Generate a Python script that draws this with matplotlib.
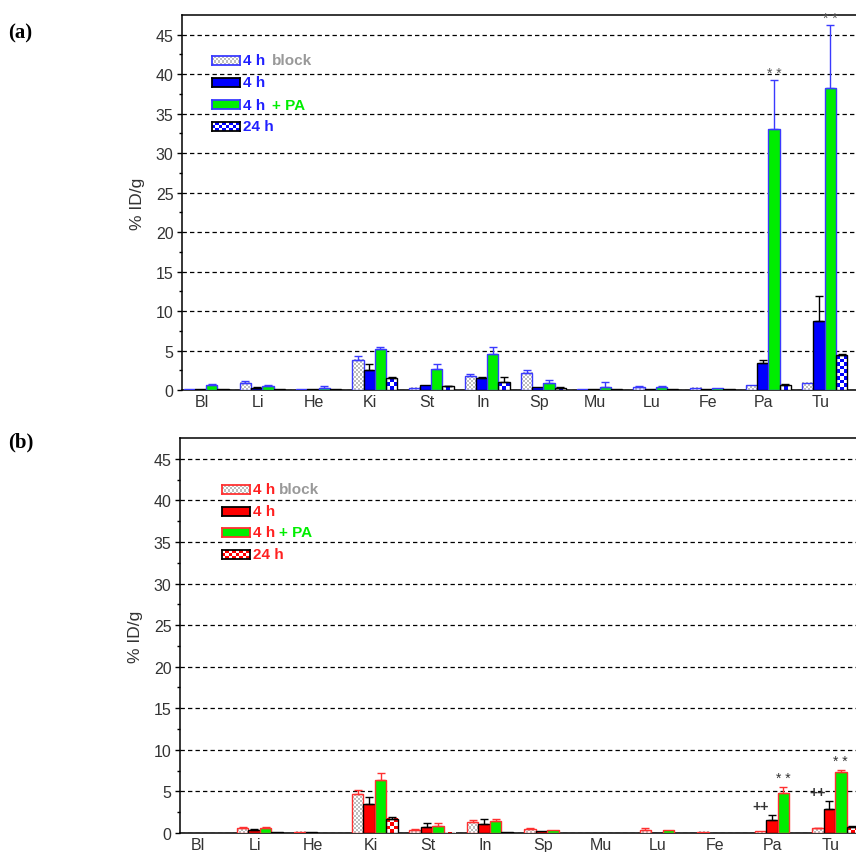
import numpy as np
import matplotlib
matplotlib.use("Agg")
import matplotlib.pyplot as plt
from matplotlib.colors import ListedColormap

plt.rcParams['font.family'] = ['Liberation Sans', 'DejaVu Sans']

tissues = ['Bl', 'Li', 'He', 'Ki', 'St', 'In', 'Sp', 'Mu', 'Lu', 'Fe', 'Pa', 'Tu']

# panel (a)
a_block = [0.1, 0.93, 0.1, 3.85, 0.3, 1.77, 2.2, 0.1, 0.33, 0.3, 0.63, 0.92]
a_block_err = [0, 0.27, 0, 0.5, 0, 0.3, 0.3, 0, 0.12, 0, 0, 0]
a_4h = [0.1, 0.3, 0.1, 2.5, 0.6, 1.5, 0.33, 0.1, 0.1, 0.1, 3.45, 8.76]
a_4h_err = [0, 0.05, 0, 0.8, 0, 0.1, 0, 0, 0, 0, 0.4, 3.1]
a_pa = [0.6, 0.55, 0.3, 5.15, 2.6, 4.6, 0.85, 0.42, 0.42, 0.3, 33.0, 38.3]
a_pa_err = [0.2, 0.05, 0.15, 0.35, 0.7, 0.9, 0.45, 0.63, 0.05, 0, 6.3, 7.9]
a_24h = [0.1, 0.1, 0.1, 1.5, 0.45, 1.0, 0.3, 0.1, 0.1, 0.1, 0.63, 4.42]
a_24h_err = [0, 0, 0, 0.15, 0.1, 0.6, 0.1, 0, 0, 0, 0.12, 0.18]

# panel (b)
b_block = [0, 0.6, 0.15, 4.66, 0.36, 1.32, 0.48, 0, 0.36, 0.15, 0.24, 0.56]
b_block_err = [0, 0.12, 0, 0.55, 0.09, 0.25, 0.12, 0, 0.24, 0, 0, 0.1]
b_4h = [0, 0.36, 0.1, 3.5, 0.68, 1.08, 0.25, 0, 0.05, 0, 1.57, 2.93]
b_4h_err = [0, 0.09, 0, 0.87, 0.49, 0.65, 0, 0, 0, 0, 0.56, 0.93]
b_pa = [0, 0.6, 0, 6.35, 0.88, 1.4, 0.32, 0, 0.32, 0, 4.78, 7.3]
b_pa_err = [0, 0.1, 0, 0.85, 0.29, 0.25, 0, 0, 0, 0, 0.72, 0.3]
b_24h = [0, 0.1, 0, 1.73, 0.05, 0.1, 0, 0, 0, 0, 0, 0.72]
b_24h_err = [0, 0, 0, 0.24, 0, 0, 0, 0, 0, 0, 0, 0.08]

BLUE = '#0000ff'
EBLUE = '#3a3aff'
GREEN = '#00ee00'
RED = '#ff0000'
ERED = '#ff3030'
GRAY_TXT = '#999999'

W, H = 856, 853
fig = plt.figure(figsize=(W / 100, H / 100), dpi=100)


def px_axes(l, t, r, b):
    return fig.add_axes([l / W, 1 - b / H, (r - l) / W, (b - t) / H])


def checker(nx, ny):
    return np.add.outer(np.arange(ny), np.arange(nx)) % 2


def checker_fill(ax, patches, color, cell):
    cmap = ListedColormap(['white', color])
    for p in patches:
        x0, y0, w, h = p.get_x(), p.get_y(), p.get_width(), p.get_height()
        if h <= 0:
            continue
        (px0, py0), (px1, py1) = ax.transData.transform([(x0, y0), (x0 + w, y0 + h)])
        nx = max(1, int(round((px1 - px0) / cell)))
        ny = max(1, int(round((py1 - py0) / cell)))
        ax.imshow(checker(nx, ny), cmap=cmap, vmin=0, vmax=1, origin='lower',
                  extent=(x0, x0 + w, y0, y0 + h), interpolation='nearest',
                  aspect='auto', zorder=2.6)


def panel(ax, xlim, series):
    ax.set_xlim(*xlim)
    ax.set_ylim(0, 47.5)
    x = np.arange(len(tissues))
    offs = [-0.3, -0.1, 0.1, 0.3]
    for (vals, errs, face, edge, ecol, pattern), off in zip(series, offs):
        vals = np.array(vals, float)
        errs = np.array(errs, float)
        edges = [edge if v > 0 else 'none' for v in vals]
        fc = 'none' if pattern else face
        bars = ax.bar(x + off, vals, 0.2, color=fc, edgecolor=edges, linewidth=1.0, zorder=3)
        if pattern:
            checker_fill(ax, bars.patches, pattern[0], pattern[1])
        m = errs > 0
        ax.errorbar((x + off)[m], vals[m], yerr=[np.zeros(m.sum()), errs[m]], fmt='none',
                    ecolor=ecol, elinewidth=1.0, capsize=3, capthick=1.0, zorder=3.5)
    ax.set_xlim(*xlim)
    ax.set_ylim(0, 47.5)
    ax.set_yticks(np.arange(0, 46, 5))
    ax.set_yticks(np.arange(2.5, 47, 5), minor=True)
    ax.yaxis.grid(True, which='major', linestyle=(0, (3.5, 2.5)), color='black', lw=0.9)
    ax.set_axisbelow(True)
    ax.set_xticks(x - 0.08)
    ax.set_xticklabels(tissues)
    ax.tick_params(axis='x', length=0, pad=3, labelsize=11.5, labelcolor='#333333')
    ax.tick_params(axis='y', which='major', direction='out', length=3.6, width=1,
                   pad=2.5, labelsize=11.5, labelcolor='#333333')
    ax.tick_params(axis='y', which='minor', direction='out', length=2.2, width=1)
    ax.spines['right'].set_visible(False)
    for s in ['left', 'bottom', 'top']:
        ax.spines[s].set_linewidth(1.1)
    ax.set_ylabel('% ID/g', fontsize=12.5, color='#333333', labelpad=8)


def legend(l, rows, text_x, block_x, edge_main, txt_color, dark_face, pattern_color):
    entries = [
        ('block', '#bdbdbd', edge_main, 2),
        ('solid', dark_face, 'black', None),
        ('solid', GREEN, edge_main, None),
        ('check', pattern_color, 'black', 3.5),
    ]
    for (kind, face, edge, cell), cy in zip(entries, rows):
        sa = px_axes(l, cy - 4.5, l + 28, cy + 4.5)
        sa.set_xticks([])
        sa.set_yticks([])
        if kind == 'solid':
            sa.set_facecolor(face)
        else:
            nx = int(round(28 / cell))
            ny = max(1, int(round(9 / cell)))
            sa.imshow(checker(nx, ny), cmap=ListedColormap(['white', face]),
                      aspect='auto', interpolation='nearest', vmin=0, vmax=1)
        for s in sa.spines.values():
            s.set_edgecolor(edge)
            s.set_linewidth(1.3)
    kw = dict(fontsize=11, fontweight='bold', va='center')
    fig.text(text_x / W, 1 - rows[0] / H, '4 h', color=txt_color, **kw)
    fig.text(block_x / W, 1 - rows[0] / H, 'block', color=GRAY_TXT, **kw)
    fig.text(text_x / W, 1 - rows[1] / H, '4 h', color=txt_color, **kw)
    fig.text(text_x / W, 1 - rows[2] / H, '4 h', color=txt_color, **kw)
    fig.text(block_x / W, 1 - rows[2] / H, '+ PA', color=GREEN, **kw)
    fig.text(text_x / W, 1 - rows[3] / H, '24 h', color=txt_color, **kw)


# ---- panel (a)
axA = px_axes(182, 16, 856, 391)
series_a = [
    (a_block, a_block_err, None, EBLUE, EBLUE, ('#bdbdbd', 2)),
    (a_4h, a_4h_err, BLUE, 'black', 'black', None),
    (a_pa, a_pa_err, GREEN, EBLUE, EBLUE, None),
    (a_24h, a_24h_err, None, 'black', 'black', (BLUE, 3.5)),
]
panel(axA, (-0.427, 11.556), series_a)
for i in [10, 11]:
    axA.annotate('* *', (i + 0.1, a_pa[i] + a_pa_err[i]), xytext=(0, 0),
                 textcoords='offset points', ha='center', va='bottom',
                 fontsize=10, color='#555555')
legend(212, [61, 83, 105.5, 127], 243, 272, EBLUE, '#2020ff', BLUE, BLUE)

# ---- panel (b)
axB = px_axes(180, 439, 856, 834)
series_b = [
    (b_block, b_block_err, None, ERED, ERED, ('#bdbdbd', 2)),
    (b_4h, b_4h_err, RED, 'black', 'black', None),
    (b_pa, b_pa_err, GREEN, ERED, ERED, None),
    (b_24h, b_24h_err, None, 'black', 'black', (RED, 3.5)),
]
panel(axB, (-0.391, 11.365), series_b)
for i in [10, 11]:
    axB.annotate('* *', (i + 0.1, b_pa[i] + b_pa_err[i]), xytext=(0, 1.5),
                 textcoords='offset points', ha='center', va='bottom',
                 fontsize=10, color='#333333')
    axB.annotate('++', (i - 0.3, b_4h[i] + b_4h_err[i]), xytext=(0, 1.5),
                 textcoords='offset points', ha='center', va='bottom',
                 fontsize=10, fontweight='bold', color='#333333')
legend(222, [490.5, 512, 533, 555], 253, 279, ERED, '#ff2020', RED, RED)

fig.text(8 / W, 1 - 33 / H, '(a)', fontsize=15, fontweight='bold', va='center',
         family=['Liberation Serif', 'DejaVu Serif'])
fig.text(8 / W, 1 - 442 / H, '(b)', fontsize=15, fontweight='bold', va='center',
         family=['Liberation Serif', 'DejaVu Serif'])

fig.savefig('out.png', dpi=100)
